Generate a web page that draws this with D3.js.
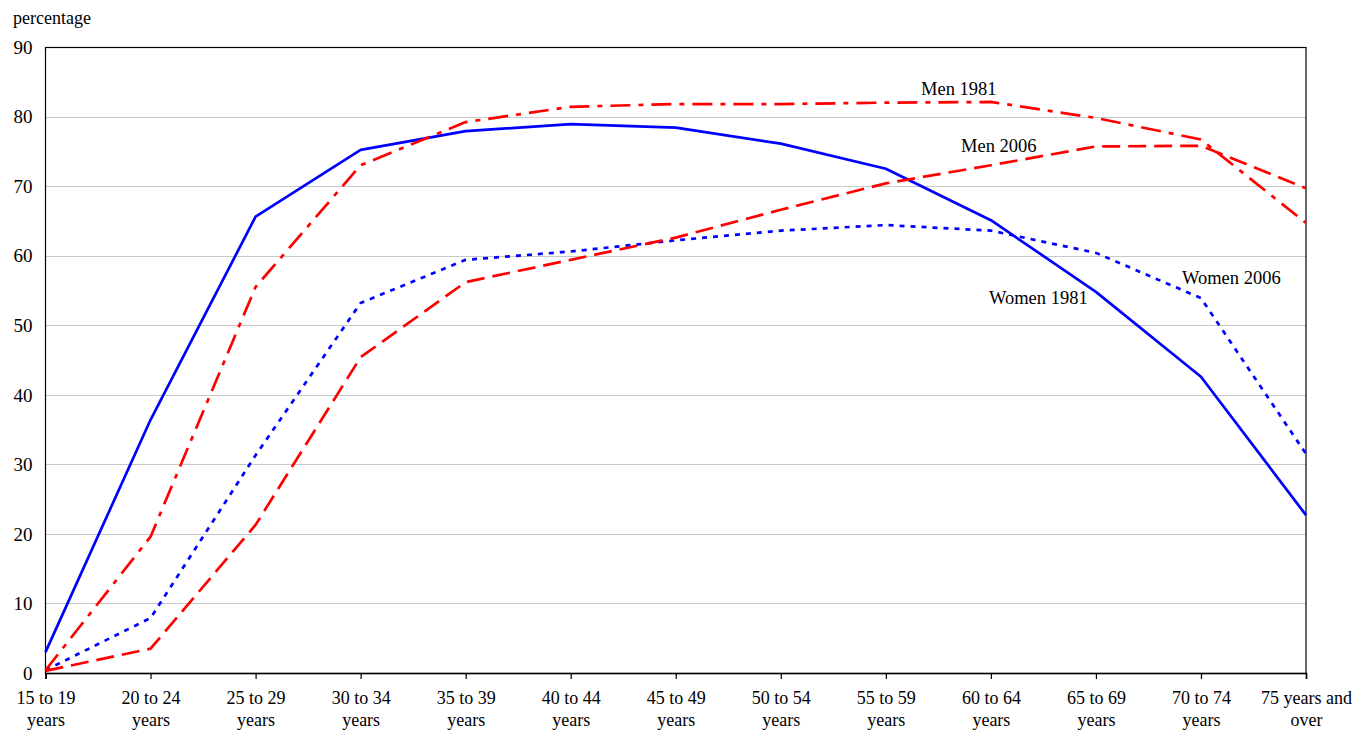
<!DOCTYPE html>
<html><head><meta charset="utf-8">
<script src="https://cdn.jsdelivr.net/npm/d3@7"></script>
<style>
body{margin:0;background:#fff;}
text{font-family:"Liberation Serif","Times New Roman",serif;fill:#000;}
</style></head>
<body><svg id="c" width="1356" height="732"></svg>
<script>
const categories = ["15 to 19|years","20 to 24|years","25 to 29|years","30 to 34|years","35 to 39|years","40 to 44|years","45 to 49|years","50 to 54|years","55 to 59|years","60 to 64|years","65 to 69|years","70 to 74|years","75 years and|over"];
const women1981 = [3.0,36.4,65.6,75.2,77.9,78.9,78.4,76.1,72.5,65.1,54.8,42.6,22.7];
const men1981   = [0.4,19.6,55.5,73.0,79.2,81.4,81.8,81.8,82.0,82.1,79.8,76.7,64.7];
const men2006   = [0.3,3.5,21.3,45.4,56.2,59.4,62.6,66.6,70.4,73.0,75.7,75.8,69.7];
const women2006 = [0.4,7.9,31.3,53.2,59.4,60.6,62.2,63.6,64.4,63.6,60.4,53.9,31.5];
const yTicks = [0,10,20,30,40,50,60,70,80,90];

const svg = d3.select("#c");
const L=45.5, R=1306, T=47, B=673;
const x = d3.scalePoint().domain(categories).range([L,R]);
const y = d3.scaleLinear().domain([0,90]).range([B,T]);

// gridlines
svg.append("g").selectAll("line").data(yTicks.filter(d=>d>0&&d<90)).join("line")
  .attr("x1",L).attr("x2",R).attr("y1",d=>Math.round(y(d))+0.5).attr("y2",d=>Math.round(y(d))+0.5)
  .attr("stroke","#c8c8c8").attr("stroke-width",1.2);

// frame
svg.append("rect").attr("x",L).attr("y",T+0.5).attr("width",R-L).attr("height",B-T)
  .attr("fill","none").attr("stroke","#000").attr("stroke-width",1.2);

// y axis labels
const yAxis = d3.axisLeft(y).tickValues(yTicks).tickSize(0).tickPadding(13);
const gy = svg.append("g").attr("transform",`translate(${L},0)`).call(yAxis);
gy.select(".domain").remove();
gy.selectAll("text").attr("font-size",19).attr("font-family","Liberation Serif").attr("dy","0.33em");

// x axis
const xAxis = d3.axisBottom(x).tickSize(6).tickFormat(()=>"");
const gx = svg.append("g").attr("transform",`translate(0,${B})`).call(xAxis);
gx.select(".domain").attr("stroke","#000").attr("stroke-width",1.5);
gx.selectAll(".tick line").attr("stroke","#000").attr("stroke-width",1.2);
gx.selectAll(".tick").each(function(d){
  const parts = d.split("|");
  const t = d3.select(this).append("text").attr("text-anchor","middle")
    .attr("font-size",18).attr("font-family","Liberation Serif");
  t.append("tspan").attr("x",0).attr("y",31).text(parts[0]);
  t.append("tspan").attr("x",0).attr("y",53).text(parts[1]);
});

// title
svg.append("text").attr("x",13).attr("y",24).attr("font-size",18).text("percentage");

const line = d3.line().x((d,i)=>x(categories[i])).y(d=>y(d));
const series = [
  {v:women1981,c:"#0000ff",dash:null},
  {v:women2006,c:"#0000ff",dash:"5,6"},
  {v:men2006,c:"#ff0000",dash:"18,8"},
  {v:men1981,c:"#ff0000",dash:"20,8,5,8"}
];
svg.append("g").selectAll("path").data(series).join("path")
  .attr("d",d=>line(d.v)).attr("fill","none").attr("stroke",d=>d.c)
  .attr("stroke-width",2.7).attr("stroke-dasharray",d=>d.dash).attr("stroke-linejoin","round");

const labels = [
  {t:"Men 1981",x:921,y:95},
  {t:"Men 2006",x:961,y:152},
  {t:"Women 2006",x:1182,y:284},
  {t:"Women 1981",x:989,y:304}
];
svg.append("g").selectAll("text").data(labels).join("text")
  .attr("x",d=>d.x).attr("y",d=>d.y).attr("font-size",18.5).text(d=>d.t);
</script></body></html>
